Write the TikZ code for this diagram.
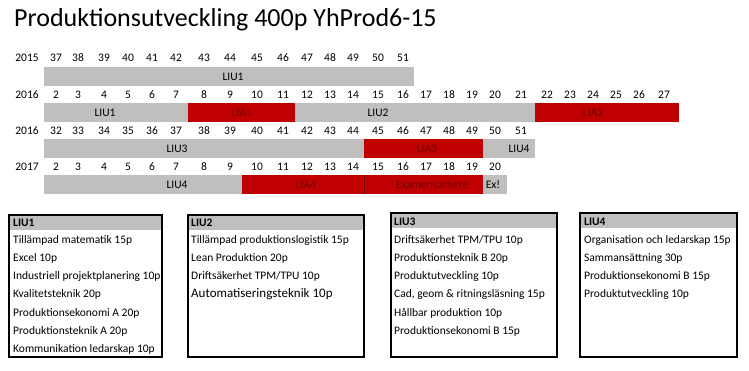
\documentclass[tikz,border=0pt]{standalone}
\usepackage{fontspec}
\setmainfont{Carlito}
\definecolor{liugra}{RGB}{191,191,191}
\definecolor{liarod}{RGB}{192,0,0}
\definecolor{liatext}{RGB}{112,0,0}
\begin{document}
\begin{tikzpicture}[x=1pt,y=-1pt]
	% Styles
	\tikzstyle{liu}=[fill=liugra]
	\tikzstyle{lia}=[fill=liarod]
	\tikzstyle{vecka}=[inner sep=0pt,font=\fontsize{11.5}{13}\selectfont]
	\tikzstyle{block}=[inner sep=0pt,font=\fontsize{11.5}{13}\selectfont]
	\tikzstyle{blockrod}=[block,text=liatext]
	\tikzstyle{ruta}=[line width=2pt]
	\tikzstyle{rubrik}=[anchor=west,inner sep=0pt,font=\bfseries\fontsize{11.5}{13}\selectfont]
	\tikzstyle{kurs}=[anchor=west,inner sep=0pt,font=\fontsize{11.5}{13}\selectfont]
	% Dimensioner
	\def\Kolumner{56,78,104,128,152,176,204,230,257,283,307,330,353,378,403,426,449,472,495,521,547,570,593,616,639,664}
	\def\BarHojd{19}
	\def\RadSteg{18.3}
	\useasboundingbox (0,0) rectangle (749,370);
	% Titel
	\node[anchor=west,inner sep=0pt,font=\fontsize{26}{30}\selectfont] (titel) at (14,20) {Produktionsutveckling 400p YhProd6-15};
	% Veckor
	\foreach \y/\ar/\start/\antal [count=\r] in {58/2015/37/15, 95/2016/2/26, 131/2016/32/20, 167/2017/2/19} {
		\node[vecka] (ar\r) at (27,\y) {\ar};
		\foreach \c [count=\i] in \Kolumner {
			\ifnum\i>\antal\else
				\pgfmathtruncatemacro\v{\start+\i-1}
				\node[vecka] (v\r-\i) at (\c,\y) {\v};
			\fi
		}
	}
	% Staplar
	\foreach \xa/\xb/\ya/\typ in {44/414/67/liu,
		44/188/103/liu, 188/295/103/lia, 295/535/103/liu, 535/679/103/lia,
		44/364/139/liu, 364/483/139/lia, 483/535/139/liu,
		44/242/175/liu, 242/483/175/lia, 483/507/175/liu}
		\fill[\typ] (\xa,\ya) rectangle (\xb,{\ya+\BarHojd});
	\draw[liatext,thin] (364,175) -- (364,194);
	\node[block] (liu1a) at (233,76.5) {LIU1};
	\node[block] (liu1b) at (105,112.5) {LIU1};
	\node[blockrod] (lia1) at (242,112.5) {LIA1};
	\node[block] (liu2) at (378,112.5) {LIU2};
	\node[blockrod] (lia2) at (593,112.5) {LIA2};
	\node[block] (liu3) at (177,148.5) {LIU3};
	\node[blockrod] (lia3) at (427,148.5) {LIA3};
	\node[block] (liu4a) at (519,148.5) {LIU4};
	\node[block] (liu4b) at (177,184.5) {LIU4};
	\node[blockrod] (lia4) at (306,184.5) {LIA4};
	\node[blockrod] (exarb) at (432,184.5) {Examensarbete};
	\node[block] (ex) at (493,184.5) {Ex!};
	% Rutor
	\foreach \xa/\xb/\ya in {9/162/215, 188/364/215, 391/557/213, 580/737/213} {
		\fill[liugra] (\xa,\ya) rectangle (\xb,{\ya+15});
		\draw[ruta] (\xa,\ya) rectangle (\xb,357);
	}
	\node[rubrik] (r1) at (13,223) {LIU1};
	\node[rubrik] (r2) at (191,223) {LIU2};
	\node[rubrik] (r3) at (394,221.5) {LIU3};
	\node[rubrik] (r4) at (584,221.5) {LIU4};
	% Kurser
	\foreach \t [count=\i] in {Tillämpad matematik 15p, Excel 10p, Industriell projektplanering 10p, Kvalitetsteknik 20p, Produktionsekonomi A 20p, Produktionsteknik A 20p, Kommunikation ledarskap 10p}
		\node[kurs,fill=white,inner sep=1pt] (k1-\i) at (12,{240+\RadSteg*(\i-1)}) {\t};
	\foreach \t [count=\i] in {Tillämpad produktionslogistik 15p, Lean Produktion 20p, Driftsäkerhet TPM/TPU 10p}
		\node[kurs] (k2-\i) at (191,{240+\RadSteg*(\i-1)}) {\t};
	\node[kurs,font=\fontsize{13}{15}\selectfont] (k2-4) at (191,294.5) {Automatiseringsteknik 10p};
	\foreach \t [count=\i] in {Driftsäkerhet TPM/TPU 10p, Produktionsteknik B 20p, Produktutveckling 10p, {Cad, geom \& ritningsläsning 15p}, Hållbar produktion 10p, Produktionsekonomi B 15p}
		\node[kurs] (k3-\i) at (394,{240+\RadSteg*(\i-1)}) {\t};
	\foreach \t [count=\i] in {Organisation och ledarskap 15p, Sammansättning 30p, Produktionsekonomi B 15p, Produktutveckling 10p}
		\node[kurs] (k4-\i) at (584,{240+\RadSteg*(\i-1)}) {\t};
\end{tikzpicture}
\end{document}
